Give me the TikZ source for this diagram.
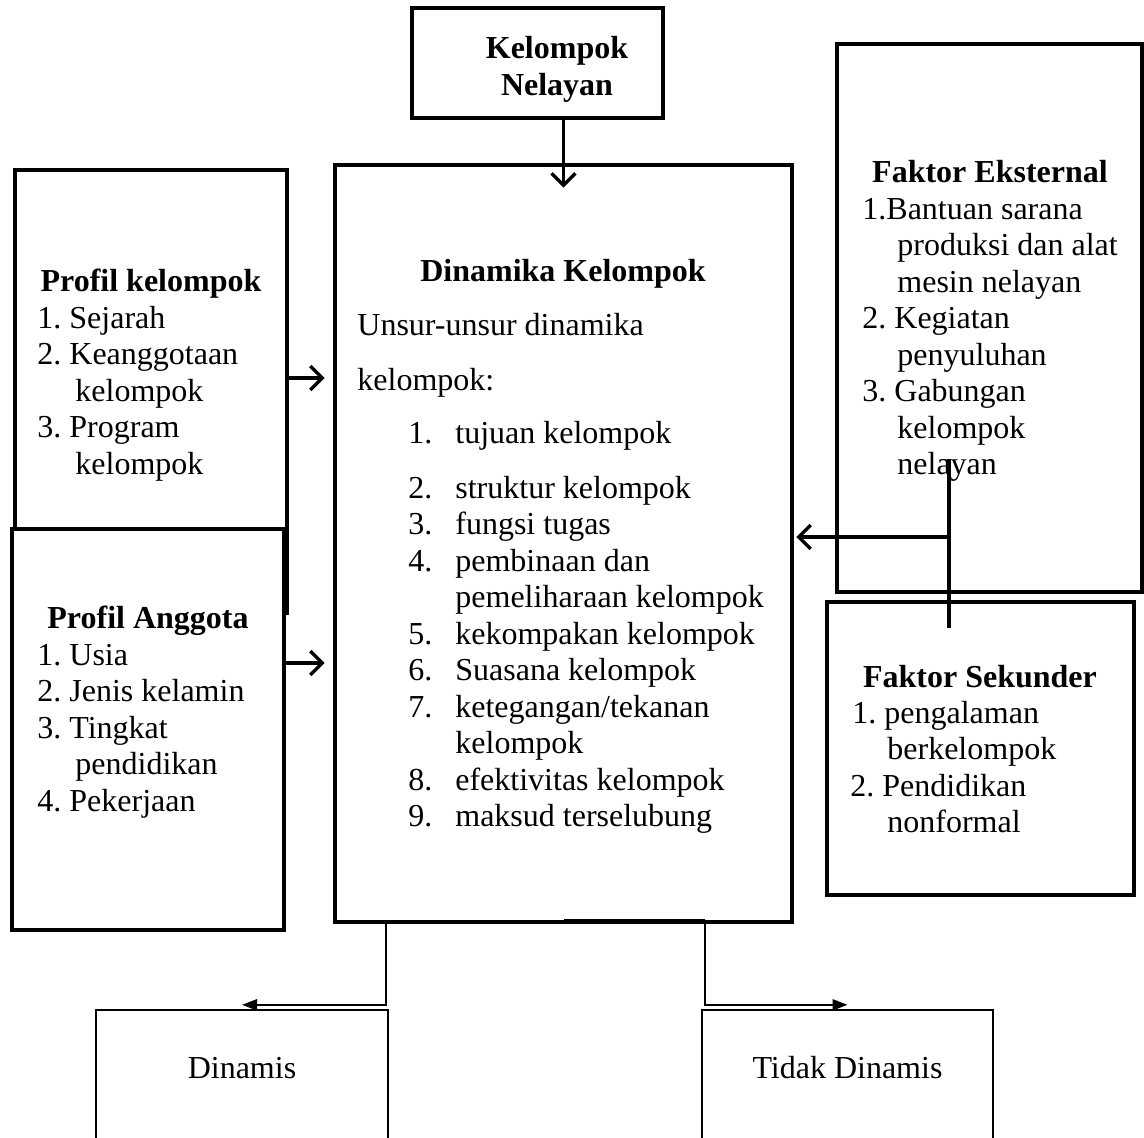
\documentclass[tikz,border=0pt]{standalone}
\usepackage{fontspec}
\setmainfont{Liberation Serif}
\usetikzlibrary{arrows.meta}
\frenchspacing

\begin{document}
\begin{tikzpicture}[x=0.5pt,y=-0.5pt,
  box/.style={draw,line width=2.3pt,fill=white,inner sep=0pt},
  thinbox/.style={draw,line width=1.2pt,inner sep=0pt},
  txt/.style={inner sep=0pt,anchor=base west,font=\fontsize{16}{18}\selectfont},
  ttl/.style={inner sep=0pt,anchor=base,font=\fontsize{16}{18}\selectfont\bfseries},
  lbl/.style={inner sep=0pt,anchor=base,font=\fontsize{16}{18}\selectfont},
  arr/.style={line width=1.7pt,-{Straight Barb[length=6pt,width=12pt,line width=1.7pt]}},
  tarr/.style={line width=1pt,-{Triangle[length=7.5pt,width=5.5pt]}}]

\useasboundingbox (0,0) rectangle (1144,1137);
\clip (0,0) rectangle (1144,1137);

%boxes
\node[box,minimum width=125.5pt,minimum height=55pt] (nel) at (537.5,63) {};
\node[box,minimum width=228.5pt,minimum height=378.5pt] (main) at (563.5,543.5) {};
\node[box,minimum width=136pt,minimum height=221.5pt] (pk) at (151,391.5) {};
\node[box,minimum width=136pt,minimum height=200.5pt] (pa) at (148,729.5) {};
\node[box,minimum width=152.5pt,minimum height=274pt] (fe) at (989.5,318) {};
\node[box,minimum width=153.5pt,minimum height=146.5pt] (fs) at (980.5,748.5) {};
\node[thinbox,minimum width=146pt,minimum height=75pt] (din) at (242,1085) {};
\node[thinbox,minimum width=145.5pt,minimum height=75pt] (tdk) at (847.5,1085) {};

%KN
\node[ttl] (nel1) at (557,58) {Kelompok};
\node[ttl] (nel2) at (557,95) {Nelayan};

%DK
\node[ttl] (dkt) at (563,281) {Dinamika Kelompok};
\node[txt] (dku1) at (357,335) {Unsur-unsur dinamika};
\node[txt] (dku2) at (357,390) {kelompok:};
\foreach \y/\n/\t [count=\i] in {443/1./tujuan kelompok, 498/2./struktur kelompok,
  534.5/3./fungsi tugas, 571/4./pembinaan dan, 607.5//pemeliharaan kelompok,
  644/5./kekompakan kelompok, 680.5/6./Suasana kelompok, 717/7./{ketegangan/tekanan},
  753.5//kelompok, 790/8./efektivitas kelompok, 826.5/9./maksud terselubung}
  \node[txt] (dk\i) at (408,\y) {\makebox[23.5pt][l]{\n}\t};

%PK
\node[ttl] (pkt) at (151,291) {Profil kelompok};
\foreach \y/\x/\t [count=\i] in {328/37/1. Sejarah, 364.5/37/2. Keanggotaan,
  401/75/kelompok, 437.5/37/3. Program, 474/75/kelompok}
  \node[txt] (pk\i) at (\x,\y) {\t};

%PA
\node[ttl] (pat) at (148,628) {Profil Anggota};
\foreach \y/\x/\t [count=\i] in {665/37/1. Usia, 701.5/37/2. Jenis kelamin,
  738/37/3. Tingkat, 774.5/75/pendidikan, 811/37/4. Pekerjaan}
  \node[txt] (pa\i) at (\x,\y) {\t};

%FE
\node[ttl] (fet) at (990,182) {Faktor Eksternal};
\foreach \y/\x/\t [count=\i] in {219/862/1.Bantuan sarana, 255.5/897/produksi dan alat,
  292/897/mesin nelayan, 328.5/862/2. Kegiatan, 365/897/penyuluhan,
  401.5/862/3. Gabungan, 438/897/kelompok, 474.5/897/nelayan}
  \node[txt] (fe\i) at (\x,\y) {\t};

%FS
\node[ttl] (fst) at (980,687) {Faktor Sekunder};
\foreach \y/\x/\t [count=\i] in {723/852/1. pengalaman, 759.5/887/berkelompok,
  796/850/2. Pendidikan, 832.5/887/nonformal}
  \node[txt] (fs\i) at (\x,\y) {\t};

%hasil
\node[lbl] (dint) at (242,1078) {Dinamis};
\node[lbl] (tdkt) at (847.5,1078) {Tidak Dinamis};

%arrows
\coordinate (pka) at (287,378);
\coordinate (paa) at (284,663);
\coordinate (fsa) at (949,459);
\coordinate (fsb) at (949,537);
\coordinate (fsc) at (949,628);
\coordinate (dinc) at (386,922);
\coordinate (tdkc) at (705,920);

\draw[arr] (nel.south -| main.north) -- ([yshift=-12.5pt]main.north);
\draw[arr,shorten >=4pt] (pka) -- (pka -| main.west);
\draw[arr,shorten >=4pt] (paa) -- (paa -| main.west);
\draw[line width=1.7pt] (fsc) -- (fsa);
\draw[arr,shorten >=1pt] (fsb) -- (fsb -| main.east);
\draw[tarr] (dinc) |- ([yshift=2pt]din.north);
\draw[tarr] ([yshift=2pt]main.south) -| (tdkc) |- ([yshift=2pt]tdk.north);

\end{tikzpicture}
\end{document}
